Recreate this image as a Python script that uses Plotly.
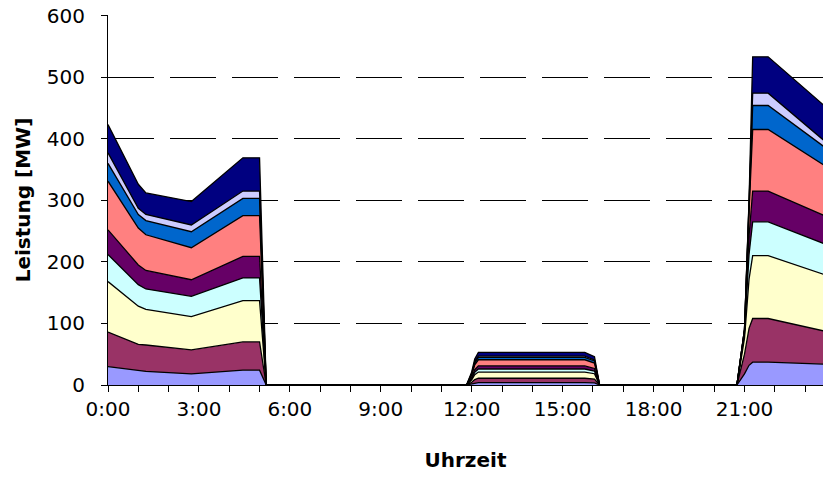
import plotly.graph_objects as go

# ---- data (hours of day, layer thicknesses in MW) ----
hours = [0.0, 1.0, 1.25, 2.75, 4.45, 5.0, 5.22,
         11.83, 12.0, 12.1, 12.22, 15.73, 16.05, 16.22,
         20.75, 21.0, 21.15, 21.27, 21.78, 23.6]

s1 = [30, 23, 22, 18, 24, 24, 0,   0, 1.6, 3.2, 4, 4, 3.5, 0,   0, 18, 32, 37, 37, 34]
s2 = [56, 43, 43, 39, 46, 46, 0,   0, 2.8, 5.6, 7, 7, 6.1, 0,   0, 32, 60, 71, 71, 54]
s3 = [82, 62, 58, 54, 67, 67, 0,   0, 4.0, 8.0, 10, 10, 8.7, 0,  0, 26, 80, 102, 102, 92]
s4 = [44, 35, 33, 33, 37, 37, 0,   0, 2.0, 4.0, 5, 5, 4.3, 0,   0, 8, 40, 55, 55, 50]
s5 = [40, 32, 30, 27, 35, 35, 0,   0, 2.0, 4.0, 5, 5, 4.3, 0,   0, 4, 30, 50, 50, 46]
s6 = [79, 60, 58, 52, 66, 66, 0,   0, 4.0, 8.0, 10, 10, 8.7, 0,  0, 2, 40, 100, 100, 82]
s7 = [29, 22, 23, 26, 28, 28, 0,   0, 1.6, 3.2, 4, 4, 3.5, 0,   0, 0, 10, 39, 39, 30]
s8 = [17, 10, 10, 11, 12, 12, 0,   0, 0.8, 1.6, 2, 2, 1.7, 0,   0, 0, 4, 20, 20, 10]
s9 = [46, 39, 35, 38, 54, 54, 0,   0, 2.4, 4.8, 6, 6, 5.2, 0,   0, 0, 4, 59, 59, 57]

series = [s1, s2, s3, s4, s5, s6, s7, s8, s9]
colors = ["#9999FF", "#993366", "#FFFFCC", "#CCFFFF", "#660066",
          "#FF8080", "#0066CC", "#CCCCFF", "#000080"]

x_tick_vals = [0, 3, 6, 9, 12, 15, 18, 21]
x_tick_labels = ["0:00", "3:00", "6:00", "9:00", "12:00", "15:00", "18:00", "21:00"]
y_tick_vals = [0, 100, 200, 300, 400, 500, 600]

FONT = "DejaVu Sans"

fig = go.Figure()
for i, (vals, col) in enumerate(zip(series, colors)):
    fig.add_trace(go.Scatter(
        x=hours, y=vals, mode="lines", stackgroup="one",
        line=dict(color="black", width=1.3),
        fillcolor=col, name=f"S{i+1}", showlegend=False,
    ))

fig.update_layout(
    width=823, height=479,
    margin=dict(l=108, r=0, t=15, b=94, autoexpand=False),
    paper_bgcolor="white", plot_bgcolor="white",
    font=dict(family=FONT, size=20, color="black"),
    showlegend=False,
)

fig.update_xaxes(
    range=[0, 23.59], automargin=False,
    tickmode="array", tickvals=x_tick_vals, ticktext=x_tick_labels,
    ticks="outside", ticklen=6, tickcolor="black", tickwidth=1,
    minor=dict(ticks="outside", ticklen=6, tickcolor="black", dtick=1, tick0=0, showgrid=False),
    showline=True, linecolor="black", linewidth=1,
    showgrid=False, zeroline=False,
    ticklabelstandoff=0,
    title=dict(text="<b>Uhrzeit</b>", font=dict(family=FONT, size=20), standoff=32),
)

fig.update_yaxes(
    range=[0, 601], automargin=False,
    tickmode="array", tickvals=y_tick_vals,
    ticks="outside", ticklen=6, tickcolor="black", tickwidth=1,
    showline=True, linecolor="black", linewidth=1,
    showgrid=True, gridcolor="black", gridwidth=1, griddash="46px,16px",
    zeroline=False,
    ticklabelstandoff=12, ticklabeloverflow="allow",
    title=dict(text="<b>Leistung [MW]</b>", font=dict(family=FONT, size=20), standoff=10),
)

# remove the page's default 8px body margin so the figure fills the window
fig.write_html(
    "out.html",
    config={"displayModeBar": False, "staticPlot": True},
    post_script="document.body.style.margin='0';document.body.style.overflow='hidden';",
)
